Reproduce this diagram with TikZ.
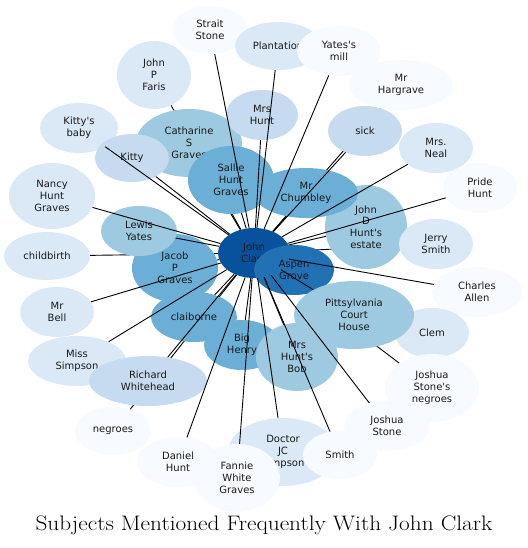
\documentclass[tikz,border=0pt]{standalone}
\usepackage{fontspec}
\usepackage{xcolor}
\usepackage{graphicx}
\usepackage{tikz}
\usetikzlibrary{positioning, shapes.geometric, backgrounds}

\newfontfamily\subjfont{DejaVu Sans}
\definecolor{b0}{HTML}{F7FBFF}
\definecolor{b1}{HTML}{DBE9F6}
\definecolor{b2}{HTML}{C6DBEF}
\definecolor{b3}{HTML}{9ECAE1}
\definecolor{b4}{HTML}{6BAED6}
\definecolor{b5}{HTML}{2171B5}
\definecolor{b6}{HTML}{08519C}

\tikzset{
  subj/.style={ellipse, inner sep=0pt, align=center, text=black!90,
    font=\subjfont\fontsize{10}{11.8}\selectfont},
  sz/.style 2 args={minimum width=#1pt, minimum height=#2pt},
  tie/.style={line width=0.9pt, black},
}

\begin{document}
\begin{tikzpicture}[x=1pt, y=-1pt]
    \useasboundingbox (0,0) rectangle (527,548);
    % subjects, back to front
    \node[subj, fill=b0, sz={76}{48}] (strait) at (210,30) {Strait\\Stone};
    \node[subj, fill=b1, sz={86}{48}] (plant) at (278,46) {Plantation};
    \node[subj, fill=b0, sz={84}{50}] (mill) at (339,51) {Yates's\\mill};
    \node[subj, fill=b0, sz={104}{50}] (hargrave) at (401,85) {Mr\\Hargrave};
    \node[subj, fill=b1, sz={74}{68}] (faris) at (154,75) {John\\P\\Faris};
    \node[subj, fill=b1, sz={78}{50}] (kbaby) at (79,128) {Kitty's\\baby};
    \node[subj, fill=b3, sz={106}{68}] (catharine) at (189,143) {Catharine\\S\\Graves};
    \node[subj, fill=b2, sz={72}{50}] (mrshunt) at (262,115) {Mrs\\Hunt};
    \node[subj, fill=b2, sz={74}{48}] (kitty) at (132,158) {Kitty};
    \node[subj, fill=b2, sz={74}{50}] (sick) at (365,131) {sick};
    \node[subj, fill=b1, sz={74}{50}] (neal) at (436,148) {Mrs.\\Neal};
    \node[subj, fill=b3, sz={82}{84}] (estate) at (366,227) {John\\D\\Hunt's\\estate};
    \node[subj, fill=b4, sz={86}{68}] (sallie) at (231,180) {Sallie\\Hunt\\Graves};
    \node[subj, fill=b4, sz={104}{50}] (chumbley) at (306,193) {Mr\\Chumbley};
    \node[subj, fill=b0, sz={74}{50}] (pride) at (480,188) {Pride\\Hunt};
    \node[subj, fill=b1, sz={74}{50}] (jerry) at (436,244) {Jerry\\Smith};
    \node[subj, fill=b1, sz={86}{66}] (nancy) at (52,196) {Nancy\\Hunt\\Graves};
    \node[subj, fill=b4, sz={86}{68}] (jacob) at (175,268) {Jacob\\P\\Graves};
    \node[subj, fill=b3, sz={76}{50}] (lewis) at (139,231) {Lewis\\Yates};
    \node[subj, fill=b1, sz={86}{48}] (birth) at (47,256) {childbirth};
    \node[subj, fill=b6, sz={72}{50}] (clark) at (254,253) {John\\Clark};
    \node[subj, fill=b5, sz={80}{50}] (aspen) at (294,270) {Aspen\\Grove};
    \node[subj, fill=b0, sz={90}{50}] (allen) at (477,292) {Charles\\Allen};
    \node[subj, fill=b1, sz={74}{50}] (clem) at (432,333) {Clem};
    \node[subj, fill=b3, sz={120}{68}] (court) at (354,315) {Pittsylvania\\Court\\House};
    \node[subj, fill=b1, sz={74}{50}] (bell) at (57,312) {Mr\\Bell};
    \node[subj, fill=b4, sz={86}{50}] (claiborne) at (194,317) {claiborne};
    \node[subj, fill=b4, sz={76}{50}] (henry) at (242,345) {Big\\Henry};
    \node[subj, fill=b3, sz={82}{68}] (bob) at (297,357) {Mrs\\Hunt's\\Bob};
    \node[subj, fill=b1, sz={98}{50}] (simpson) at (77,361) {Miss\\Simpson};
    \node[subj, fill=b2, sz={118}{50}] (whitehead) at (148,381) {Richard\\Whitehead};
    \node[subj, fill=b0, sz={94}{68}] (stneg) at (432,388) {Joshua\\Stone's\\negroes};
    \node[subj, fill=b0, sz={76}{48}] (negroes) at (113,431) {negroes};
    \node[subj, fill=b0, sz={86}{50}] (jstone) at (387,426) {Joshua\\Stone};
    \node[subj, fill=b1, sz={110}{68}] (doctor) at (283,452) {Doctor\\JC\\Simpson};
    \node[subj, fill=b0, sz={74}{48}] (smith) at (340,455) {Smith};
    \node[subj, fill=b0, sz={82}{50}] (daniel) at (178,462) {Daniel\\Hunt};
    \node[subj, fill=b0, sz={86}{68}] (fannie) at (237,478) {Fannie\\White\\Graves};

    % ties from John Clark
    \foreach \s in {strait, plant, mill, mrshunt, kbaby, kitty, sallie, chumbley,
                    sick, neal, pride, nancy, lewis, jacob, bell, simpson, claiborne,
                    whitehead, daniel, henry, fannie, doctor, bob, smith, jstone,
                    court, allen}
      \draw[tie] (clark) -- (\s);
    \begin{pgfonlayer}{background}
      \foreach \s in {faris, catharine, hargrave, estate, jerry, birth, clem, stneg, negroes}
        \draw[tie] (clark) -- (\s);
    \end{pgfonlayer}

    \node[font=\fontsize{21}{24}\selectfont] (title) at (264,525)
      {\scalebox{1.11}[1]{Subjects Mentioned Frequently With John Clark}};
\end{tikzpicture}
\end{document}
